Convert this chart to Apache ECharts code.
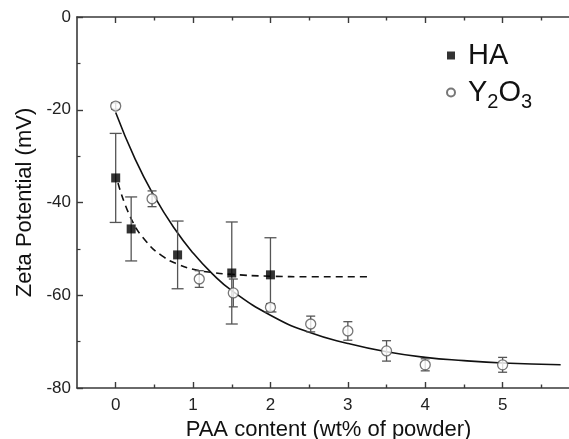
<!DOCTYPE html>
<html>
<head>
<meta charset="utf-8">
<script src="https://cdn.jsdelivr.net/npm/echarts@6/dist/echarts.min.js"></script>
<style>html,body{margin:0;padding:0;background:#fff;}#c{width:569px;height:439px;}</style>
</head>
<body>
<div id="c"></div>
<script>
// ---- data ----
var haX = [0, 0.2, 0.8, 1.5, 2.0];
var haY = [-34.7, -45.7, -51.3, -55.2, -55.6];
var haErr = [9.6, 6.9, 7.3, 11.0, 8.0];

var yoX = [0, 0.47, 1.08, 1.52, 2.0, 2.52, 3.0, 3.5, 4.0, 5.0];
var yoY = [-19.2, -39.2, -56.5, -59.5, -62.6, -66.2, -67.7, -72.0, -75.0, -75.0];
var yoErr = [0.7, 1.7, 1.8, 3.0, 0.8, 1.7, 2.0, 2.2, 1.3, 1.6];

var fitSolidX = [0, 0.25, 0.5, 0.75, 1, 1.25, 1.5, 2, 2.5, 3, 3.5, 4, 4.5, 5, 5.75];
var fitSolidY = [-20.6, -30.6, -38.7, -45.4, -50.9, -55.4, -59.0, -64.3, -68.0, -70.4, -72.2, -73.4, -74.1, -74.6, -75.0];

var fitDashX = [0.03, 0.2, 0.4, 0.6, 0.8, 1.0, 1.25, 1.5, 2.0, 2.5, 3.25];
var fitDashY = [-35.8, -43.5, -48.5, -51.5, -53.3, -54.4, -55.1, -55.5, -55.9, -56.0, -56.0];

var xMajorTicks = [0, 1, 2, 3, 4, 5, 6];
var xLabels = [0, 1, 2, 3, 4, 5];
var xMinorTicks = [0.5, 1.5, 2.5, 3.5, 4.5, 5.5];

function pairs(xs, ys) { return xs.map(function (x, i) { return [x, ys[i]]; }); }
function errData(xs, ys, es) { return xs.map(function (x, i) { return [x, ys[i] - es[i], ys[i] + es[i]]; }); }

function errRender(capW) {
  return function (params, api) {
    var x = api.value(0);
    var lo = api.coord([x, api.value(1)]);
    var hi = api.coord([x, api.value(2)]);
    var st = { stroke: '#555', lineWidth: 1.3 };
    return {
      type: 'group',
      children: [
        { type: 'line', shape: { x1: lo[0], y1: lo[1], x2: hi[0], y2: hi[1] }, style: st },
        { type: 'line', shape: { x1: lo[0] - capW / 2, y1: lo[1], x2: lo[0] + capW / 2, y2: lo[1] }, style: st },
        { type: 'line', shape: { x1: hi[0] - capW / 2, y1: hi[1], x2: hi[0] + capW / 2, y2: hi[1] }, style: st }
      ]
    };
  };
}

var FONT = 'Liberation Sans, Arial, sans-serif';
var axisCol = '#3a3a3a';

function xAxisDef(pos, ticks, len, showLine, labels) {
  return {
    type: 'value', position: pos, min: -0.5, max: 6, gridIndex: 0,
    axisLine: { show: showLine, onZero: false, lineStyle: { color: axisCol, width: 1.6 } },
    axisTick: { show: true, inside: true, length: len, customValues: ticks, lineStyle: { color: axisCol, width: 1.4 } },
    axisLabel: labels ? { show: true, customValues: labels, fontSize: 17, color: '#222', fontFamily: FONT, margin: 9 } : { show: false },
    splitLine: { show: false }
  };
}

var chart = echarts.init(document.getElementById('c'));
var bottomMain = xAxisDef('bottom', xMajorTicks, 6, true, xLabels);
bottomMain.name = 'PAA content (wt% of powder)';
bottomMain.nameLocation = 'middle';
bottomMain.nameGap = 31;
bottomMain.nameTextStyle = { fontSize: 22, color: '#111', fontFamily: FONT };

chart.setOption({
  animation: false,
  backgroundColor: '#fff',
  grid: { left: 77, top: 17, right: -11, bottom: 51, outerBoundsMode: 'none', containLabel: false },
  xAxis: [
    bottomMain,
    xAxisDef('bottom', xMinorTicks, 3.5, false, null),
    xAxisDef('top', xMajorTicks, 6, true, null),
    xAxisDef('top', xMinorTicks, 3.5, false, null)
  ],
  yAxis: {
    type: 'value', min: -80, max: 0, interval: 20, position: 'left',
    name: 'Zeta Potential (mV)', nameLocation: 'middle', nameGap: 41,
    nameTextStyle: { fontSize: 22, color: '#111', fontFamily: FONT },
    axisLine: { show: true, onZero: false, lineStyle: { color: axisCol, width: 1.6 } },
    axisTick: { show: true, inside: true, length: 6, lineStyle: { color: axisCol, width: 1.4 } },
    minorTick: { show: true, splitNumber: 2, length: 3.5, lineStyle: { color: axisCol, width: 1.2 } },
    axisLabel: { fontSize: 17, color: '#222', fontFamily: FONT, margin: 6 },
    splitLine: { show: false }
  },
  legend: {
    orient: 'vertical', left: 441, top: 36, itemWidth: 8, itemHeight: 8, itemGap: 8,
    data: ['HA', 'Y2O3'],
    formatter: function (n) { return n === 'HA' ? '{a|HA}' : '{a|Y}{s|2}{a|O}{s|3}'; },
    textStyle: {
      padding: [0, 0, 0, 8],
      rich: {
        a: { fontSize: 29, color: '#111', fontFamily: FONT },
        s: { fontSize: 20, color: '#111', fontFamily: FONT, verticalAlign: 'bottom', padding: [20, 0, 0, 0] }
      }
    }
  },
  series: [
    { type: 'line', data: pairs(fitSolidX, fitSolidY), smooth: true, showSymbol: false, symbol: 'none',
      lineStyle: { color: '#111', width: 1.6 }, z: 2, silent: true },
    { type: 'line', data: pairs(fitDashX, fitDashY), smooth: true, showSymbol: false, symbol: 'none',
      lineStyle: { color: '#111', width: 1.6, type: [7, 5] }, z: 2, silent: true },
    { type: 'custom', renderItem: errRender(12), data: errData(haX, haY, haErr), z: 3, silent: true },
    { type: 'custom', renderItem: errRender(9), data: errData(yoX, yoY, yoErr), z: 3, silent: true },
    { name: 'HA', type: 'scatter', data: pairs(haX, haY), symbol: 'rect', symbolSize: 9,
      itemStyle: { color: '#000' }, z: 5 },
    { name: 'Y2O3', type: 'scatter', data: pairs(yoX, yoY), symbol: 'circle', symbolSize: 10,
      itemStyle: { color: '#fff', borderColor: '#555', borderWidth: 1.3 }, z: 5 }
  ]
});
</script>
</body>
</html>
